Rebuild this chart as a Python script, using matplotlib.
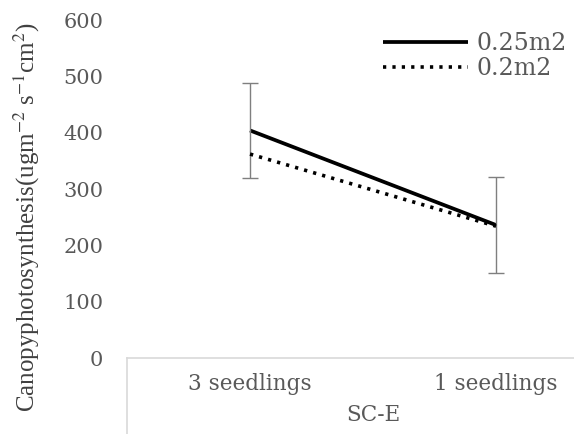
import matplotlib
matplotlib.use("Agg")
import matplotlib.pyplot as plt
from matplotlib.lines import Line2D
import matplotlib.transforms as mtrans

# Daten
categories = ["3 seedlings", "1 seedlings"]
group_label = "SC-E"
series_names = ["0.25m2", "0.2m2"]
vals_025 = [404, 236]
vals_02 = [362, 234]
err_025 = [84, 85]
yticks = [0, 100, 200, 300, 400, 500, 600]

plt.rcParams["mathtext.fontset"] = "stix"
GREY = "#595959"
AXC = "#d9d9d9"

fig = plt.figure(figsize=(5.74, 4.34), dpi=100)
ax = fig.add_axes([0.2213, 0.1751, 0.7787, 0.7788])

x = list(range(len(categories)))
ax.plot(x, vals_025, color="black", lw=2.7, solid_capstyle="butt", label=series_names[0])
ax.errorbar(x, vals_025, yerr=err_025, fmt="none", ecolor="#7f7f7f", elinewidth=1,
            capsize=6, capthick=1)
ax.plot(x, vals_02, color="black", lw=2.6, linestyle=(0, (0.9, 1.7)), label=series_names[1])

ax.set_xlim(-0.5, 1.317)
ax.set_ylim(0, 600)
ax.set_yticks(yticks)
ax.set_yticklabels([str(v) for v in yticks], family="DejaVu Serif", fontsize=15, color=GREY)
ax.tick_params(axis="y", length=0, pad=17)
ax.set_xticks(x)
ax.set_xticklabels(categories, family="DejaVu Serif", fontsize=15.5, color=GREY)
ax.tick_params(axis="x", length=0, pad=11)

for s in ("top", "right", "left"):
    ax.spines[s].set_visible(False)
ax.spines["bottom"].set_color(AXC)
ax.spines["bottom"].set_linewidth(1.2)

# Trennlinie der Kategorieebene
ax.add_line(Line2D([0, 0], [0, -0.23], transform=ax.transAxes, color=AXC, lw=1.2, clip_on=False))

tr = mtrans.blended_transform_factory(ax.transData, ax.transAxes)
ax.text(0.5, -0.169, group_label, transform=tr, ha="center", va="center",
        family="DejaVu Serif", fontsize=15.5, color=GREY)

fig.text(27 / 574, 1 - 217 / 434,
         r"Canopyphotosynthesis(ugm$^{-2}$ s$^{-1}$cm$^{2}$)",
         rotation=90, ha="center", va="center", family="Liberation Serif",
         fontsize=18, color="#404040")

leg = fig.legend(loc="upper left", bbox_to_anchor=(383 / 574, 1 - 32 / 434),
                 frameon=False, prop={"family": "DejaVu Serif", "size": 17},
                 handlelength=3.6, handletextpad=0.35, labelspacing=0.1,
                 borderpad=0, borderaxespad=0)
for t in leg.get_texts():
    t.set_color(GREY)

fig.savefig("out.png", dpi=100)
